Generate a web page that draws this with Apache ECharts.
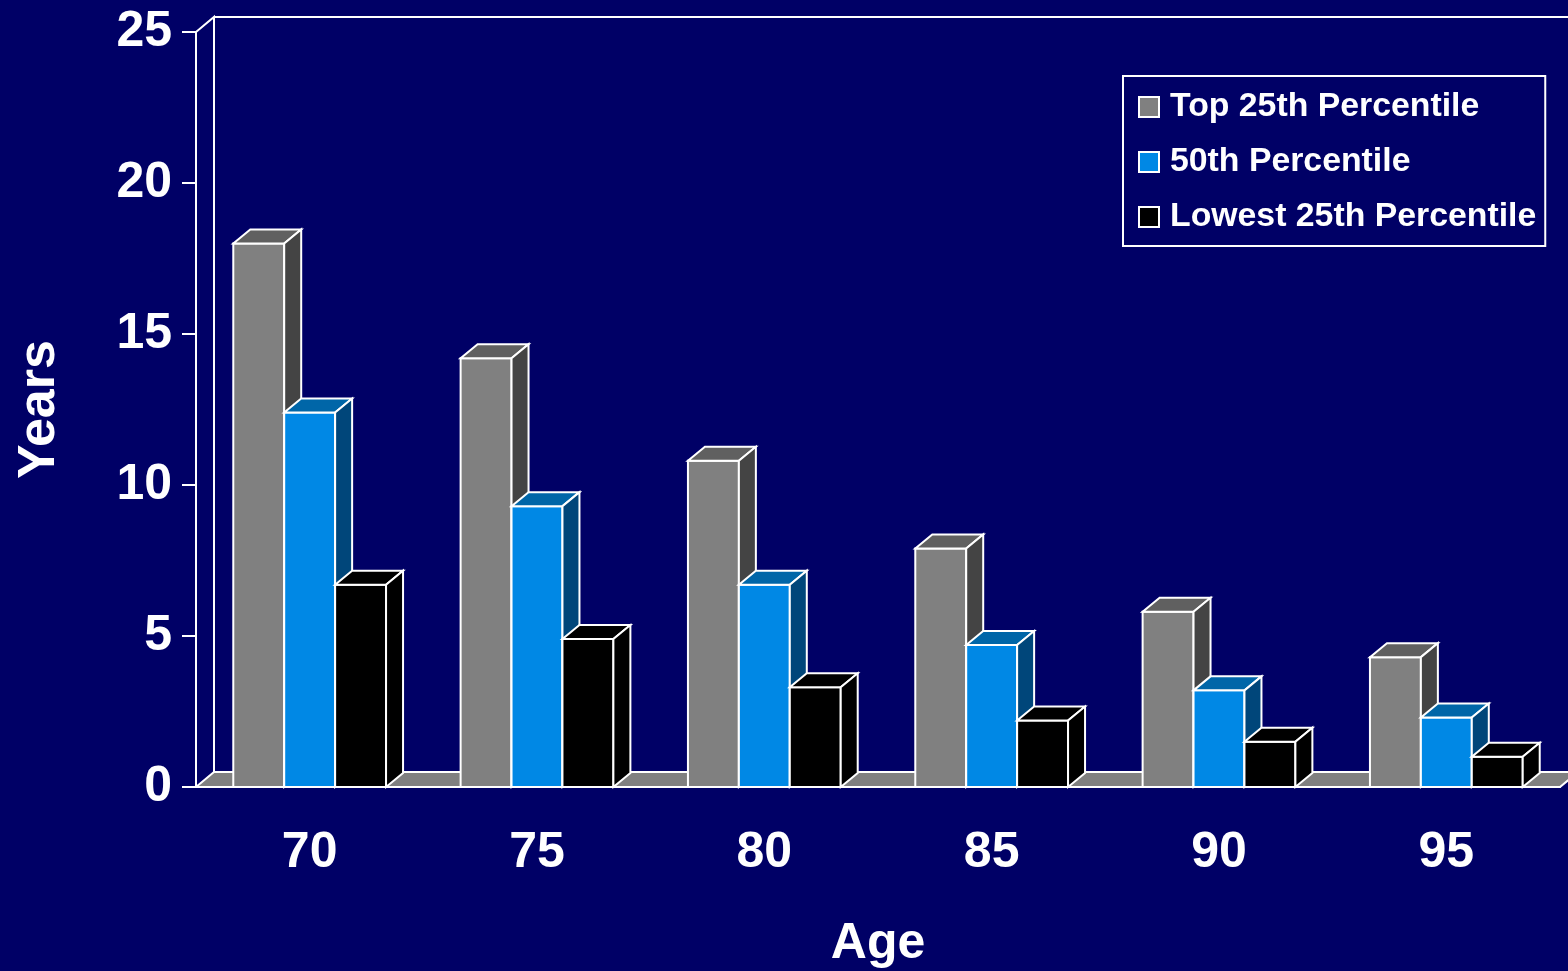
<!DOCTYPE html>
<html>
<head>
<meta charset="utf-8">
<script src="https://cdn.jsdelivr.net/npm/echarts@6/dist/echarts.min.js"></script>
<style>
html,body{margin:0;padding:0;background:#000066;}
#chart{width:1568px;height:971px;}
</style>
</head>
<body>
<div id="chart"></div>
<script>
const categories = ['70', '75', '80', '85', '90', '95'];
const topQuartile = [18.0, 14.2, 10.8, 7.9, 5.8, 4.3];
const median = [12.4, 9.3, 6.7, 4.7, 3.2, 2.3];
const lowestQuartile = [6.7, 4.9, 3.3, 2.2, 1.5, 1.0];
const seriesNames = ['Top 25th Percentile', '50th Percentile', 'Lowest 25th Percentile'];
const yTicks = [0, 5, 10, 15, 20, 25];

const FONT = '"Liberation Sans", Arial, sans-serif';
const BAR_FRACTION = 0.224;
const BDX = 17, BDY = -14;   // bar depth
const FDX = 18, FDY = -15;   // wall/floor depth
const palettes = [
  {front: '#808080', top: '#606060', side: '#444444'},
  {front: '#0088e5', top: '#0066a8', side: '#00467a'},
  {front: '#000000', top: '#000000', side: '#000000'}
];
const edge = {stroke: '#ffffff', lineWidth: 2, lineJoin: 'miter'};

function barSeries(name, values, idx) {
  const pal = palettes[idx];
  return {
    type: 'custom',
    name: name,
    z: 3 + idx,
    itemStyle: {color: pal.front},
    data: values.map((v, i) => [i, v]),
    encode: {x: 0, y: 1},
    renderItem: function (params, api) {
      const cat = api.value(0), val = api.value(1);
      const base = api.coord([cat, 0]);
      const top = api.coord([cat, val]);
      const bandW = api.size([1, 0])[0];
      const bw = bandW * BAR_FRACTION;
      const x0 = base[0] - 1.5 * bw + idx * bw;
      const x1 = x0 + bw;
      const yb = base[1], yt = top[1];
      return {
        type: 'group',
        children: [
          {type: 'polygon', shape: {points: [[x0, yb], [x1, yb], [x1, yt], [x0, yt]]},
           style: Object.assign({fill: pal.front}, edge)},
          {type: 'polygon', shape: {points: [[x0, yt], [x1, yt], [x1 + BDX, yt + BDY], [x0 + BDX, yt + BDY]]},
           style: Object.assign({fill: pal.top}, edge)},
          {type: 'polygon', shape: {points: [[x1, yb], [x1 + BDX, yb + BDY], [x1 + BDX, yt + BDY], [x1, yt]]},
           style: Object.assign({fill: pal.side}, edge)}
        ]
      };
    }
  };
}

const frameSeries = {
  type: 'custom',
  name: 'frame',
  z: 1,
  silent: true,
  data: [[0, 0]],
  encode: {x: 0, y: 1},
  renderItem: function (params, api) {
    const cs = params.coordSys;
    const x0 = cs.x, x1 = cs.x + cs.width;
    const y0 = api.coord([0, 0])[1];
    const yTop = api.coord([0, yTicks[yTicks.length - 1]])[1];
    return {
      type: 'group',
      children: [
        {type: 'polygon', shape: {points: [[x0, y0], [x1, y0], [x1 + FDX, y0 + FDY], [x0 + FDX, y0 + FDY]]},
         style: Object.assign({fill: '#808080'}, edge)},
        {type: 'polyline', shape: {points: [[x0, yTop], [x0 + FDX, yTop + FDY], [x0 + FDX, y0 + FDY]]},
         style: {stroke: '#ffffff', lineWidth: 2, fill: null}},
        {type: 'line', shape: {x1: x0 + FDX, y1: yTop + FDY, x2: x1 + FDX + 20, y2: yTop + FDY},
         style: {stroke: '#ffffff', lineWidth: 2}}
      ]
    };
  }
};

const chart = echarts.init(document.getElementById('chart'));
chart.setOption({
  backgroundColor: '#000066',
  animation: false,
  textStyle: {fontFamily: FONT},
  grid: {left: 196, right: 8, top: 32, bottom: 184, containLabel: false, outerBoundsMode: 'none'},
  legend: {
    orient: 'vertical',
    left: 1123,
    top: 76,
    padding: [14, 9, 12, 15],
    borderColor: '#ffffff',
    borderWidth: 2,
    itemWidth: 20,
    itemHeight: 20,
    itemGap: 21,
    icon: 'rect',
    textStyle: {color: '#ffffff', fontSize: 33.8, fontWeight: 'bold', fontFamily: FONT, padding: [0, 0, 0, 6]},
    data: seriesNames.map((n, i) => ({
      name: n,
      itemStyle: {color: palettes[i].front, borderColor: '#ffffff', borderWidth: 2}
    }))
  },
  xAxis: {
    type: 'category',
    data: categories,
    name: 'Age',
    nameLocation: 'middle',
    nameGap: 132,
    nameTextStyle: {color: '#ffffff', fontSize: 50, fontWeight: 'bold', fontFamily: FONT},
    axisLine: {lineStyle: {color: '#ffffff', width: 2}},
    axisTick: {length: 14, lineStyle: {color: '#ffffff', width: 2}},
    axisLabel: {color: '#ffffff', fontSize: 50, fontWeight: 'bold', fontFamily: FONT, margin: 41},
    z: 10
  },
  yAxis: {
    type: 'value',
    min: 0,
    max: 25,
    interval: 5,
    name: 'Years',
    nameLocation: 'middle',
    nameRotate: 90,
    nameGap: 130,
    nameTextStyle: {color: '#ffffff', fontSize: 52, fontWeight: 'bold', fontFamily: FONT},
    splitLine: {show: false},
    axisLine: {show: true, lineStyle: {color: '#ffffff', width: 2}},
    axisTick: {show: true, length: 14, lineStyle: {color: '#ffffff', width: 2}},
    axisLabel: {color: '#ffffff', fontSize: 50, fontWeight: 'bold', fontFamily: FONT, margin: 24},
    z: 10
  },
  series: [
    frameSeries,
    barSeries(seriesNames[0], topQuartile, 0),
    barSeries(seriesNames[1], median, 1),
    barSeries(seriesNames[2], lowestQuartile, 2)
  ]
});
</script>
</body>
</html>
